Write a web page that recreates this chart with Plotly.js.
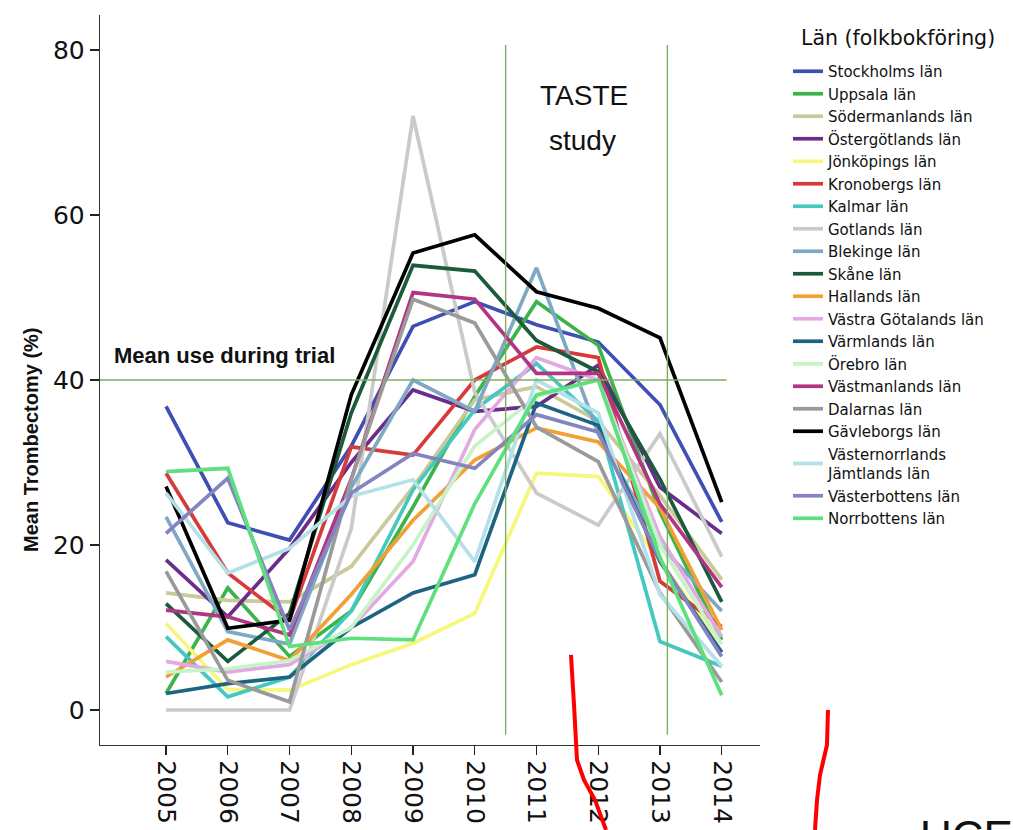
<!DOCTYPE html>
<html>
<head>
<meta charset="utf-8">
<script src="https://cdn.plot.ly/plotly-3.0.1.min.js"></script>
<style>
html,body{margin:0;padding:0;background:#fff;}
#chart{width:1013px;height:830px;}
</style>
</head>
<body>
<div id="chart"></div>
<script>
// ---- data ----
const years = [2005, 2006, 2007, 2008, 2009, 2010, 2011, 2012, 2013, 2014];
const yearLabels = ["2005", "2006", "2007", "2008", "2009", "2010", "2011", "2012", "2013", "2014"];

const stockholm      = [36.8, 22.7, 20.6, 32.0, 46.5, 49.5, 46.7, 44.6, 37.0, 22.8];
const uppsala        = [2.0, 14.8, 6.5, 12.0, 24.6, 38.0, 49.5, 44.2, 24.0, 8.5];
const sodermanland   = [14.2, 13.3, 13.1, 17.4, 27.0, 37.6, 39.2, 35.0, 26.0, 15.8];
const ostergotland   = [18.2, 11.3, 19.6, 30.0, 38.8, 36.2, 36.8, 41.8, 27.0, 21.4];
const jonkoping      = [10.5, 2.5, 2.4, 5.5, 8.1, 11.7, 28.7, 28.3, 18.0, 8.0];
const kronoberg      = [28.7, 16.6, 10.9, 31.9, 30.9, 40.0, 44.0, 42.7, 15.6, 10.1];
const kalmar         = [8.9, 1.6, 4.0, 12.0, 26.7, 36.4, 42.0, 35.0, 8.3, 5.3];
const gotland        = [0.0, 0.0, 0.0, 22.0, 72.0, 38.5, 26.3, 22.4, 33.5, 18.6];
const blekinge       = [23.4, 9.5, 8.0, 27.0, 40.0, 36.2, 53.6, 33.5, 20.0, 12.0];
const skane          = [12.9, 5.9, 11.7, 36.0, 53.9, 53.2, 44.8, 41.0, 28.0, 13.1];
const halland        = [4.0, 8.5, 6.0, 14.0, 23.0, 30.3, 34.2, 32.5, 24.5, 9.7];
const vastraGotaland = [5.9, 4.6, 5.5, 10.0, 18.0, 34.0, 42.7, 40.0, 21.0, 8.9];
const varmland       = [2.0, 3.2, 4.0, 10.0, 14.2, 16.4, 37.2, 34.5, 18.0, 7.0];
const orebro         = [4.6, 5.0, 6.0, 10.0, 20.0, 32.0, 38.0, 40.0, 20.0, 8.0];
const vastmanland    = [12.1, 11.3, 9.1, 28.0, 50.6, 49.8, 40.8, 40.8, 25.0, 14.9];
const dalarna        = [16.8, 3.6, 1.0, 28.0, 49.8, 46.9, 34.3, 30.1, 14.2, 3.4];
const gavleborg      = [27.1, 9.9, 10.9, 38.2, 55.4, 57.6, 50.7, 48.7, 45.1, 25.2];
const vasternorrland = [26.3, 16.6, 19.6, 25.9, 27.9, 18.0, 40.0, 36.0, 14.0, 5.3];
const vasterbotten   = [21.4, 28.1, 9.7, 26.3, 31.1, 29.3, 35.8, 33.7, 18.2, 6.5];
const norrbotten     = [28.9, 29.3, 7.7, 8.7, 8.5, 25.0, 38.2, 40.0, 18.5, 1.8];

const seriesNames = [
  "Stockholms län", "Uppsala län", "Södermanlands län", "Östergötlands län",
  "Jönköpings län", "Kronobergs län", "Kalmar län", "Gotlands län",
  "Blekinge län", "Skåne län", "Hallands län", "Västra Götalands län",
  "Värmlands län", "Örebro län", "Västmanlands län", "Dalarnas län",
  "Gävleborgs län", "Västernorrlands<br>Jämtlands län", "Västerbottens län", "Norrbottens län"
];
const seriesValues = [
  stockholm, uppsala, sodermanland, ostergotland, jonkoping, kronoberg, kalmar,
  gotland, blekinge, skane, halland, vastraGotaland, varmland, orebro,
  vastmanland, dalarna, gavleborg, vasternorrland, vasterbotten, norrbotten
];
const seriesColors = [
  "#3f4fb3", "#3cb44b", "#c9c99a", "#6b2d8b", "#f7f77c", "#d63a3a", "#44c8c0",
  "#cacaca", "#7fa8c4", "#1c5a3c", "#f0a035", "#e2aae2", "#1e6482", "#c6f4c6",
  "#b03582", "#9a9a9a", "#000000", "#b4e0e8", "#8484c0", "#5ee07e"
];

const legendTitle = "Län (folkbokföring)";
const yTitle = "Mean Trombectomy (%)";
const trialMean = 40;
const tasteStart = 2010.5;
const tasteEnd = 2013.12;

const traces = seriesNames.map((name, i) => ({
  type: "scatter",
  mode: "lines",
  name: name,
  x: years,
  y: seriesValues[i],
  line: { color: seriesColors[i], width: 3.7 },
  hoverinfo: "x+y+name"
}));

const guide = "#7fae62";
const xr = [2003.93, 2014.62];
const yr = [-4.24, 84.24];

// helper to convert page pixels to paper coords (for text placement / hand-drawn decorations)
const L = 100, T = 15, W = 660, H = 730;
const px = v => (v - L) / W;
const py = v => (T + H - v) / H;
function path(points) {
  return points.map((p, i) => (i ? "L" : "M") + px(p[0]).toFixed(4) + "," + py(p[1]).toFixed(4)).join(" ");
}

const layout = {
  width: 1013,
  height: 830,
  margin: { l: L, r: 1013 - L - W, t: T, b: 830 - T - H },
  paper_bgcolor: "#ffffff",
  plot_bgcolor: "#ffffff",
  showlegend: true,
  xaxis: {
    range: xr,
    tickvals: years,
    ticktext: yearLabels,
    tickangle: 90,
    ticks: "outside",
    ticklen: 9,
    tickwidth: 1.2,
    tickcolor: "#222",
    showline: true,
    linecolor: "#333",
    linewidth: 1.3,
    showgrid: false,
    zeroline: false,
    tickfont: { family: "DejaVu Sans, sans-serif", size: 25, color: "#111" }
  },
  yaxis: {
    range: yr,
    tickvals: [0, 20, 40, 60, 80],
    ticks: "outside",
    ticklen: 9,
    tickwidth: 1.2,
    tickcolor: "#222",
    showline: true,
    linecolor: "#333",
    linewidth: 1.3,
    showgrid: false,
    zeroline: false,
    tickfont: { family: "DejaVu Sans, sans-serif", size: 25, color: "#111" }
  },
  legend: {
    x: px(788),
    y: py(55),
    xanchor: "left",
    yanchor: "top",
    bgcolor: "rgba(0,0,0,0)",
    font: { family: "DejaVu Sans, sans-serif", size: 15, color: "#111" },
    tracegroupgap: 0,
    itemwidth: 30
  },
  shapes: [
    { type: "line", xref: "x", yref: "y", x0: xr[0], x1: 2014.08, y0: trialMean, y1: trialMean, line: { color: guide, width: 1.4 } },
    { type: "line", xref: "x", yref: "y", x0: tasteStart, x1: tasteStart, y0: -3, y1: 80.6, line: { color: guide, width: 1.4 } },
    { type: "line", xref: "x", yref: "y", x0: tasteEnd, x1: tasteEnd, y0: -3, y1: 80.6, line: { color: guide, width: 1.4 } },
    // red hand-drawn strokes present on the reference image
    { type: "path", xref: "paper", yref: "paper", path: path([[571, 655], [574, 705], [577, 760], [584, 780], [595, 800], [606, 830]]), line: { color: "#ff0000", width: 4 } },
    { type: "path", xref: "paper", yref: "paper", path: path([[828, 710], [827, 745], [820, 775], [817, 800], [815, 830]]), line: { color: "#ff0000", width: 4 } }
  ],
  annotations: [
    { xref: "paper", yref: "paper", x: px(31), y: py(440), xanchor: "center", yanchor: "middle", textangle: -90, showarrow: false,
      text: yTitle, font: { family: "Liberation Sans Narrow, Liberation Sans, Arial, sans-serif", size: 20, color: "#111", weight: "bold" } },
    { xref: "paper", yref: "paper", x: px(799), y: py(38), xanchor: "left", yanchor: "middle", showarrow: false,
      text: legendTitle, font: { family: "DejaVu Sans, sans-serif", size: 20.5, color: "#111" } },
    { xref: "x", yref: "y", x: 2004.12, y: 43.0, xanchor: "left", yanchor: "middle", showarrow: false,
      text: "Mean use during trial", font: { family: "Liberation Sans, Arial, sans-serif", size: 22, color: "#111", weight: "bold" } },
    { xref: "x", yref: "y", x: 2011.77, y: 74.5, xanchor: "center", yanchor: "middle", showarrow: false,
      text: "TASTE", font: { family: "Liberation Sans, Arial, sans-serif", size: 28, color: "#111" } },
    { xref: "x", yref: "y", x: 2011.75, y: 69.0, xanchor: "center", yanchor: "middle", showarrow: false,
      text: "study", font: { family: "Liberation Sans, Arial, sans-serif", size: 28, color: "#111" } },
    { xref: "paper", yref: "paper", x: px(918), y: py(810), xanchor: "left", yanchor: "top", showarrow: false,
      text: "UCE", font: { family: "Liberation Sans, Arial, sans-serif", size: 44, color: "#111" } }
  ]
};

Plotly.newPlot("chart", traces, layout, { displayModeBar: false, staticPlot: true });
</script>
</body>
</html>
